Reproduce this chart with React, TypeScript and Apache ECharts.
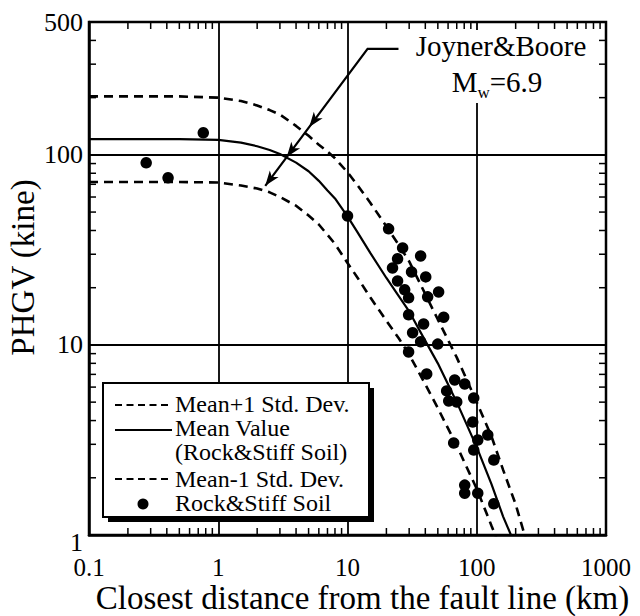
import React, { useEffect, useRef } from 'react';
import * as echarts from 'echarts';

const FONT = "'Liberation Serif', 'Times New Roman', Times, serif";

// Mean value curve (Rock & Stiff Soil)
const meanX = [0.1, 0.5, 1, 1.5, 2, 2.5, 3, 4, 5, 6, 7, 8, 10, 12, 15, 20, 25, 30, 40, 50, 70, 100, 130, 160, 190, 220];
const meanY = [121, 121, 120, 116, 111, 106, 101, 91, 82, 73, 65, 59, 47.5, 39, 30.5, 22.5, 18, 15, 10.5, 8.0, 5.0, 2.9, 1.85, 1.25, 0.95, 0.7];

// Mean + 1 standard deviation
const upperX = [0.1, 0.5, 1, 1.5, 2, 2.5, 3, 4, 5, 6, 7, 8, 10, 12, 15, 20, 25, 30, 40, 50, 70, 100, 130, 160, 200, 240];
const upperY = [203, 203, 200, 192, 182, 172, 163, 142, 126, 113, 104, 96, 81, 69, 56, 42, 33.5, 27.5, 18.5, 13.6, 8.6, 5.0, 3.3, 2.2, 1.45, 0.95];

// Mean - 1 standard deviation
const lowerX = [0.1, 0.5, 1, 1.5, 2, 2.5, 3, 4, 5, 6, 7, 8, 10, 12, 15, 20, 25, 30, 40, 50, 70, 100, 130, 150];
const lowerY = [72, 72, 71.5, 69, 66.5, 63.5, 60, 54, 48, 43, 38, 34, 27, 22.5, 17.8, 13.4, 10.8, 8.9, 6.2, 4.65, 2.95, 1.75, 1.12, 0.88];

// Observed records (Rock & Stiff Soil)
const pointX = [0.277, 0.409, 0.766, 10.0, 20.8, 26.7, 36.8, 24.4, 22.3, 31.3, 40.3, 24.4, 50.7, 27.7, 41.7, 29.7, 55.5, 29.7, 38.8, 31.9, 36.8, 49.9, 29.7, 41.0, 67.5, 80.7, 58.5, 60.7, 70.0, 94.8, 93.1, 66.3, 121.7, 101.8, 94.8, 135.5, 80.7, 80.7, 101.8, 135.5];
const pointY = [90.8, 75.7, 130.6, 47.7, 40.8, 32.4, 29.4, 28.4, 25.4, 24.2, 22.8, 21.7, 19.0, 19.5, 17.9, 17.7, 14.0, 14.4, 12.9, 11.6, 10.4, 10.1, 9.19, 7.04, 6.54, 6.23, 5.73, 5.07, 5.01, 5.26, 3.93, 3.05, 3.36, 3.16, 2.80, 2.48, 1.83, 1.66, 1.66, 1.46];

// Minor ticks
const xMinorTicks = [0.2, 0.3, 0.4, 0.5, 0.6, 0.7, 0.8, 0.9, 2, 3, 4, 5, 6, 7, 8, 9, 20, 30, 40, 50, 60, 70, 80, 90, 200, 300, 400, 500, 600, 700, 800, 900];
const yMinorTicks = [2, 3, 4, 5, 6, 7, 8, 9, 20, 30, 40, 50, 60, 70, 80, 90, 200, 300, 400];

// Text
const xTitle = 'Closest distance from the fault line (km)';
const yTitle = 'PHGV (kine)';
const legendLabels = ['Mean+1 Std. Dev.', 'Mean Value', '(Rock&Stiff Soil)', 'Mean-1 Std. Dev.', 'Rock&Stiff Soil'];

// Annotation anchor (data coordinates): elbow, end of horizontal leader, arrow end
const annoElbow = [14.3, 361];
const annoStart = [24.8, 361];
const annoEnd = [2.31, 68.7];

const toPairs = (xs: number[], ys: number[]) => xs.map((x, i) => [x, ys[i]]);

export default function App() {
  const ref = useRef<HTMLDivElement>(null);
  useEffect(() => {
    document.body.style.margin = '0';
    const chart = echarts.init(ref.current!, null, { renderer: 'svg' });
    const tickStyle = { stroke: '#000', lineWidth: 1.5 };
    const option: any = {
      animation: false,
      backgroundColor: '#fff',
      textStyle: { fontFamily: FONT, color: '#000' },
      grid: {
        left: 89, right: 34, top: 22, bottom: 81,
        show: true, borderColor: '#000', borderWidth: 2.5, backgroundColor: 'transparent',
        outerBoundsMode: 'none',
      },
      xAxis: {
        type: 'log', logBase: 10, min: 0.1, max: 1000,
        axisLine: { show: true, onZero: false, lineStyle: { color: '#000', width: 2.5 } },
        axisTick: { show: false },
        splitLine: { show: true, lineStyle: { color: '#000', width: 1.8 } },
        axisLabel: { color: '#000', fontSize: 25, lineHeight: 25, fontFamily: FONT, margin: 20, hideOverlap: false,
          formatter: (v: number) => String(Number(v.toPrecision(6))) },
        name: xTitle, nameLocation: 'middle', nameGap: 46, nameMoveOverlap: false,
        nameTextStyle: { color: '#000', fontSize: 33, lineHeight: 33, fontFamily: FONT, padding: [0, 0, 0, 30] },
      },
      yAxis: {
        type: 'log', logBase: 10, min: 1, max: 500,
        axisLine: { show: true, onZero: false, lineStyle: { color: '#000', width: 2.5 } },
        axisTick: { show: false },
        splitLine: { show: true, lineStyle: { color: '#000', width: 1.8 } },
        axisLabel: {
          color: '#000', fontSize: 26, fontFamily: FONT, margin: 6, hideOverlap: false,
          formatter: (v: number) => {
            const s = String(Math.round(v));
            return s === '1' ? '{low|1}' : s;
          },
          rich: { low: { fontSize: 26, fontFamily: FONT, color: '#000', padding: [14, 0, 0, 0] } },
        },
        name: yTitle, nameLocation: 'middle', nameGap: 50, nameMoveOverlap: false,
        nameTextStyle: { color: '#000', fontSize: 33, fontFamily: FONT, padding: [0, 0, 0, 22] },
      },
      series: [
        {
          type: 'custom', coordinateSystem: 'cartesian2d', silent: true, clip: false, z: 5,
          data: xMinorTicks.map((v) => [v, 1]),
          renderItem: (params: any, api: any) => {
            const p = api.coord([api.value(0), 1]);
            const cs = params.coordSys;
            const top = cs.y, bottom = cs.y + cs.height;
            return {
              type: 'group',
              children: [
                { type: 'line', shape: { x1: p[0], y1: bottom, x2: p[0], y2: bottom - 7 }, style: tickStyle },
                { type: 'line', shape: { x1: p[0], y1: top, x2: p[0], y2: top + 7 }, style: tickStyle },
              ],
            };
          },
        },
        {
          type: 'custom', coordinateSystem: 'cartesian2d', silent: true, clip: false, z: 5,
          data: yMinorTicks.map((v) => [0.1, v]),
          renderItem: (params: any, api: any) => {
            const p = api.coord([0.1, api.value(1)]);
            const cs = params.coordSys;
            const left = cs.x, right = cs.x + cs.width;
            return {
              type: 'group',
              children: [
                { type: 'line', shape: { x1: left, y1: p[1], x2: left + 7, y2: p[1] }, style: tickStyle },
                { type: 'line', shape: { x1: right, y1: p[1], x2: right - 7, y2: p[1] }, style: tickStyle },
              ],
            };
          },
        },
        {
          name: 'Mean+1 Std. Dev.', type: 'line', data: toPairs(upperX, upperY), showSymbol: false, symbol: 'none',
          lineStyle: { color: '#000', width: 2.6, type: [9, 6] }, z: 10, clip: true,
        },
        {
          name: 'Mean Value', type: 'line', data: toPairs(meanX, meanY), showSymbol: false, symbol: 'none',
          lineStyle: { color: '#000', width: 2.2, type: 'solid' }, z: 10, clip: true,
        },
        {
          name: 'Mean-1 Std. Dev.', type: 'line', data: toPairs(lowerX, lowerY), showSymbol: false, symbol: 'none',
          lineStyle: { color: '#000', width: 2.6, type: [9, 6] }, z: 10, clip: true,
        },
        {
          name: 'Rock&Stiff Soil', type: 'scatter', data: toPairs(pointX, pointY), symbol: 'circle', symbolSize: 11.5,
          itemStyle: { color: '#000', opacity: 1 }, z: 12,
        },
      ],
    };
    chart.setOption(option);

    const px = (d: number[]) => chart.convertToPixel({ xAxisIndex: 0, yAxisIndex: 0 }, d) as number[];
    const s = px(annoStart), e = px(annoElbow), t = px(annoEnd);
    const dx = t[0] - e[0], dy = t[1] - e[1];
    const len = Math.hypot(dx, dy);
    const ux = dx / len, uy = dy / len;
    const nx = -uy, ny = ux;
    const arrowHead = (frac: number) => {
      const tx = e[0] + dx * frac, ty = e[1] + dy * frac;
      const L = 15, W = 5.5, N = 4;
      return {
        type: 'polygon', z: 101,
        shape: {
          points: [
            [tx, ty],
            [tx - L * ux + W * nx, ty - L * uy + W * ny],
            [tx - (L - N) * ux, ty - (L - N) * uy],
            [tx - L * ux - W * nx, ty - L * uy - W * ny],
          ],
        },
        style: { fill: '#000' },
      };
    };

    const lx = 115, lx2 = 172, tx = 175;
    const rows = [404, 428, 452, 479, 503];
    const legendText = (i: number) => ({
      type: 'text', z: 102, x: tx, y: rows[i],
      style: { text: legendLabels[i], fill: '#000', fontSize: 24, fontFamily: FONT, lineHeight: 22, verticalAlign: 'middle', align: 'left' },
    });

    chart.setOption({
      graphic: [
        // annotation
        { type: 'rect', z: 100, shape: { x: 405, y: 30, width: 192, height: 73 }, style: { fill: '#fff' } },
        {
          type: 'text', z: 101, x: 501, y: 46,
          style: { text: 'Joyner&Boore', fill: '#000', font: `29px ${FONT}`, align: 'center', verticalAlign: 'middle' },
        },
        {
          type: 'text', z: 101, x: 497, y: 82,
          style: {
            text: '{m|M}{w|w}{m|=6.9}', align: 'center', verticalAlign: 'middle',
            rich: {
              m: { font: `29px ${FONT}`, fill: '#000', verticalAlign: 'bottom' },
              w: { font: `17px ${FONT}`, fill: '#000', verticalAlign: 'bottom', padding: [0, 0, -4, 0] },
            },
          },
        },
        {
          type: 'polyline', z: 101,
          shape: { points: [s, e, t] },
          style: { stroke: '#000', lineWidth: 2.2, fill: null },
        },
        arrowHead(0.57),
        arrowHead(0.79),
        arrowHead(1.0),
        // legend
        { type: 'rect', z: 100, shape: { x: 108, y: 388, width: 266, height: 134 }, style: { fill: '#000' } },
        { type: 'rect', z: 101, shape: { x: 103, y: 383, width: 266, height: 134 }, style: { fill: '#fff', stroke: '#000', lineWidth: 2 } },
        { type: 'line', z: 102, shape: { x1: lx, y1: 405, x2: lx2, y2: 405 }, style: { stroke: '#000', lineWidth: 2, lineDash: [7, 4.5] } },
        { type: 'line', z: 102, shape: { x1: lx, y1: 430, x2: lx2, y2: 430 }, style: { stroke: '#000', lineWidth: 2 } },
        { type: 'line', z: 102, shape: { x1: lx, y1: 479, x2: lx2, y2: 479 }, style: { stroke: '#000', lineWidth: 2, lineDash: [7, 4.5] } },
        { type: 'circle', z: 102, shape: { cx: 143, cy: 504, r: 5.5 }, style: { fill: '#000' } },
        legendText(0), legendText(1), legendText(2), legendText(3), legendText(4),
      ],
    });
    return () => chart.dispose();
  }, []);
  return <div ref={ref} style={{ position: 'fixed', left: 0, top: 0, width: 640, height: 616 }} />;
}
